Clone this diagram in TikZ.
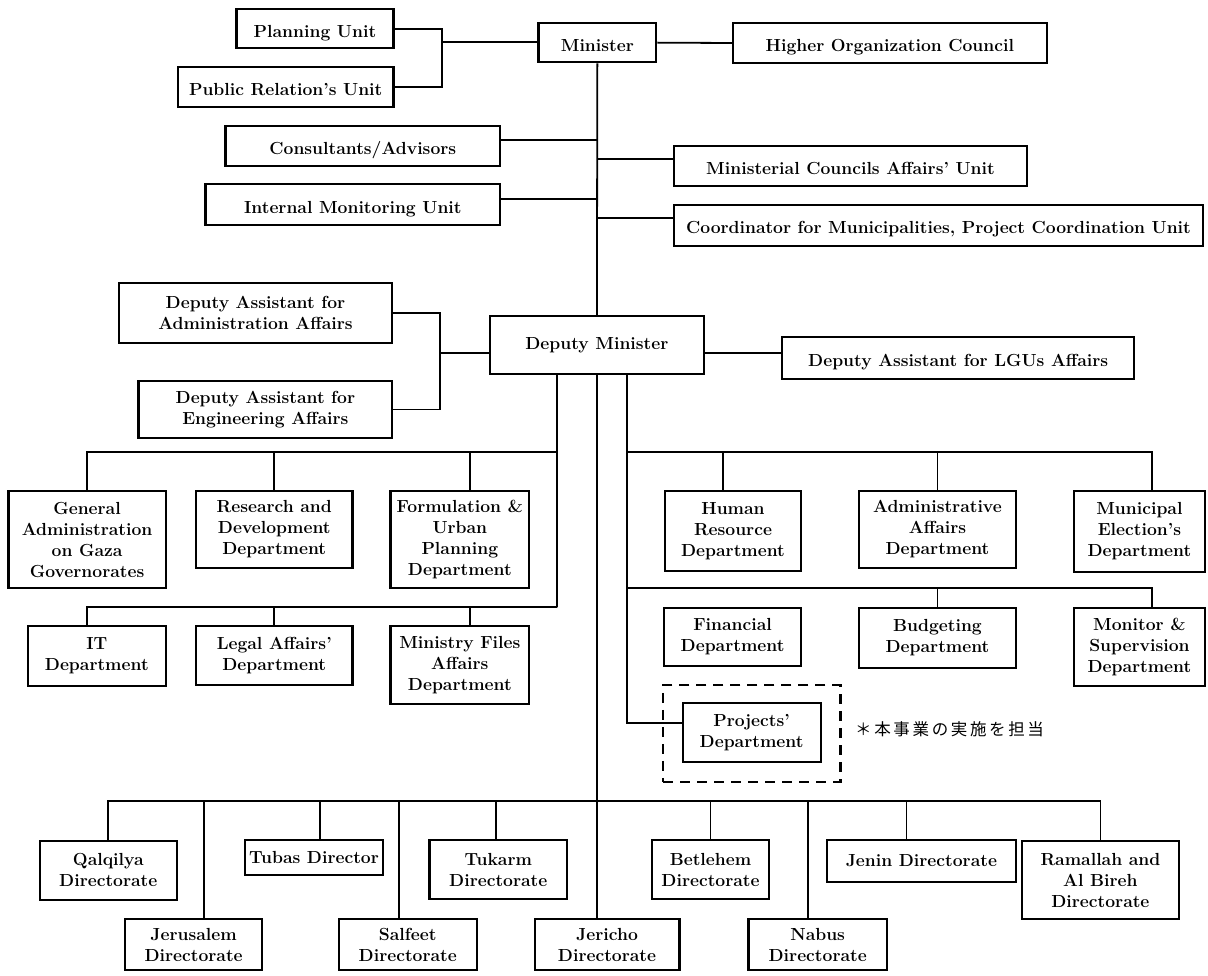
\documentclass[tikz,border=0pt]{standalone}
\usepackage{fontspec}
\newfontfamily\cjk{Noto Sans CJK JP}[LetterSpace=16]
\newcommand\schfont{\fontsize{17.5}{21}\selectfont\bfseries}
\usetikzlibrary{calc}
\tikzset{
  box/.style={draw, line width=2.2pt, inner sep=0pt, align=center, font=\schfont},
  lowtext/.style={text height=18pt, text depth=1pt},
  focusbox/.style={draw, line width=2.2pt, dash pattern=on 10pt off 7pt, inner sep=0pt},
  link/.style={line width=1.8pt},
}
% box by corners: [extra style] name, x1, y1, x2, y2 (y measured downwards), text
\newcommand\bx[7][]{\node[box, #1, minimum width={(#5-#3)*1pt}, minimum height={(#6-#4)*1pt}] (#2) at ({(#3+#5)/2},{-(#4+#6)/2}) {#7};}
\begin{document}
\begin{tikzpicture}[x=1pt,y=1pt]
\useasboundingbox (0,0) rectangle (1208,-976);
\fill[white] (0,0) rectangle (1208,-976);

% top level
\bx[lowtext]{pu}{236.5}{9}{393.4}{48.3}{Planning Unit}
\bx[lowtext]{pr}{178}{67.3}{393.4}{107}{Public Relation's Unit}
\bx[lowtext]{min}{538.5}{23}{656.2}{62.3}{Minister}
\bx[lowtext]{hoc}{733}{23.3}{1046.7}{62.7}{Higher Organization Council}
\bx[lowtext]{cons}{225.4}{126}{500.2}{165.7}{Consultants/Advisors}
\bx[lowtext]{imu}{205.5}{184.3}{500.2}{225}{Internal Monitoring Unit}
\bx[lowtext]{mca}{674}{145.7}{1027}{186}{Ministerial Councils Affairs' Unit}
\bx[lowtext]{coord}{674}{205}{1203}{245.7}{Coordinator for Municipalities, Project Coordination Unit}

% deputy level
\bx{daa}{118.6}{282.7}{392.3}{342.7}{Deputy Assistant for\\Administration Affairs}
\bx{dae}{138.5}{380.7}{392.3}{438.3}{Deputy Assistant for\\Engineering Affairs}
\bx{dm}{489.9}{316}{703.9}{374}{Deputy Minister}
\bx[lowtext]{lgu}{782.2}{336.7}{1134.3}{378.7}{Deputy Assistant for LGUs Affairs}

% departments, left side
\bx{gaza}{8.4}{490.7}{165.7}{588.3}{General\\Administration\\on Gaza\\Governorates}
\bx{res}{196}{490.7}{352.5}{568.3}{Research and\\Development\\Department}
\bx{form}{390.4}{490.7}{529.3}{587.7}{Formulation \&\\Urban\\Planning\\Department}
\bx{it}{27.9}{626.3}{165.7}{685.7}{IT\\Department}
\bx{legal}{196}{626.3}{352.5}{685}{Legal Affairs'\\Department}
\bx{mfa}{390.4}{626.3}{529.3}{704.3}{Ministry Files\\Affairs\\Department}

% departments, right side
\bx{hr}{664.8}{490.7}{801.2}{571}{Human\\Resource\\Department}
\bx{adm}{859}{490.7}{1016}{568.3}{Administrative\\Affairs\\Department}
\bx{mun}{1073.8}{490.7}{1205}{571.7}{Municipal\\Election's\\Department}
\bx{fin}{664}{607.7}{801.2}{665.7}{Financial\\Department}
\bx{bud}{859}{607.7}{1016}{668.3}{Budgeting\\Department}
\bx{mon}{1073.8}{607.7}{1205}{685.7}{Monitor \&\\Supervision\\Department}
\bx{proj}{682.6}{703.3}{820.6}{762.3}{Projects'\\Department}
\node[focusbox, minimum width=177.2pt, minimum height=96.7pt] (focus) at (751.8,-733.35) {};
\node[anchor=west, inner sep=0pt, font=\fontsize{16.5}{20}\cjk] (note) at (855,-729) {＊本事業の実施を担当};

% directorates
\bx{qal}{39.8}{840.7}{176.8}{900}{Qalqilya\\Directorate}
\bx{tub}{245.3}{840}{382.7}{875.3}{Tubas Director}
\bx{tuk}{429.4}{840}{567.2}{899.3}{Tukarm\\Directorate}
\bx{bet}{652.3}{840}{768.7}{899.3}{Betlehem\\Directorate}
\bx{jen}{826.8}{840}{1016}{881.7}{Jenin Directorate}
\bx{ram}{1021.9}{840.7}{1178.9}{919.3}{Ramallah and\\Al Bireh\\Directorate}
\bx{jer}{125.1}{919}{262.2}{970}{Jerusalem\\Directorate}
\bx{sal}{338.7}{919}{476.8}{970}{Salfeet\\Directorate}
\bx{jrc}{534.6}{919}{679.5}{970}{Jericho\\Directorate}
\bx{nab}{748.5}{919}{886.9}{970}{Nabus\\Directorate}

% junction points
\coordinate (b1) at (442,-42.3);
\coordinate (b2) at (440,-352.7);
\coordinate (bl1) at (557,-452);
\coordinate (bl2) at (557,-607.3);
\coordinate (br1) at (627,-452.3);
\coordinate (br2) at (627,-588.3);
\coordinate (bb) at (597,-800.7);

% minister group
\draw[link] (pu.east) -| (b1);
\draw[link] (pr.east) -| (b1);
\draw[link] (b1) -- (min.west |- b1);
\draw[link] (min.east) -- (hoc.west);
\draw[link] (min.south) -- (dm.north);
\draw[link] ([yshift=6pt]cons.east) -- ([yshift=6pt]cons.east -| min.south);
\draw[link] ([yshift=5.7pt]imu.east) -- ([yshift=5.7pt]imu.east -| min.south);
\draw[link] ([yshift=6.5pt]mca.west) -- ([yshift=6.5pt]mca.west -| min.south);
\draw[link] ([yshift=7pt]coord.west) -- ([yshift=7pt]coord.west -| min.south);

% deputy minister group
\draw[link] (daa.east) -| (b2);
\draw[link] (dae.east) -| (b2);
\draw[link] (b2) -- (dm.west |- b2);
\draw[link] (dm.east |- b2) -- (lgu.west |- b2);

% left departments
\draw[link] ([xshift=-40pt]dm.south) -- (bl2);
\draw[link] (bl1) -| (gaza.north);
\draw[link] (res.north) -- (res.north |- bl1);
\draw[link] ([xshift=10pt]form.north) -- ([xshift=10pt]form.north |- bl1);
\draw[link] (bl2) -| ([xshift=-9.5pt]it.north);
\draw[link] (legal.north) -- (legal.north |- bl2);
\draw[link] ([xshift=10pt]mfa.north) -- ([xshift=10pt]mfa.north |- bl2);

% right departments
\draw[link] ([xshift=30pt]dm.south) |- ([yshift=9.5pt]proj.west);
\draw[link] (br1) -| ([xshift=12.6pt]mun.north);
\draw[link] ([xshift=-9.7pt]hr.north) -- ([xshift=-9.7pt]hr.north |- br1);
\draw[link] (adm.north) -- (adm.north |- br1);
\draw[link] (br2) -| ([xshift=12.6pt]mon.north);
\draw[link] (bud.north) -- (bud.north |- br2);

% directorates
\draw[link] (dm.south) -- (dm.south |- jrc.north);
\draw[link] (qal.north) |- (bb) -| (ram.north);
\draw[link] ([xshift=10pt]jer.north) -- ([xshift=10pt]jer.north |- bb);
\draw[link] ([xshift=5.6pt]tub.north) -- ([xshift=5.6pt]tub.north |- bb);
\draw[link] ([xshift=-9pt]sal.north) -- ([xshift=-9pt]sal.north |- bb);
\draw[link] ([xshift=-2pt]tuk.north) -- ([xshift=-2pt]tuk.north |- bb);
\draw[link] (bet.north) -- (bet.north |- bb);
\draw[link] ([xshift=-10pt]nab.north) -- ([xshift=-10pt]nab.north |- bb);
\draw[link] ([xshift=-15pt]jen.north) -- ([xshift=-15pt]jen.north |- bb);
\end{tikzpicture}
\end{document}
